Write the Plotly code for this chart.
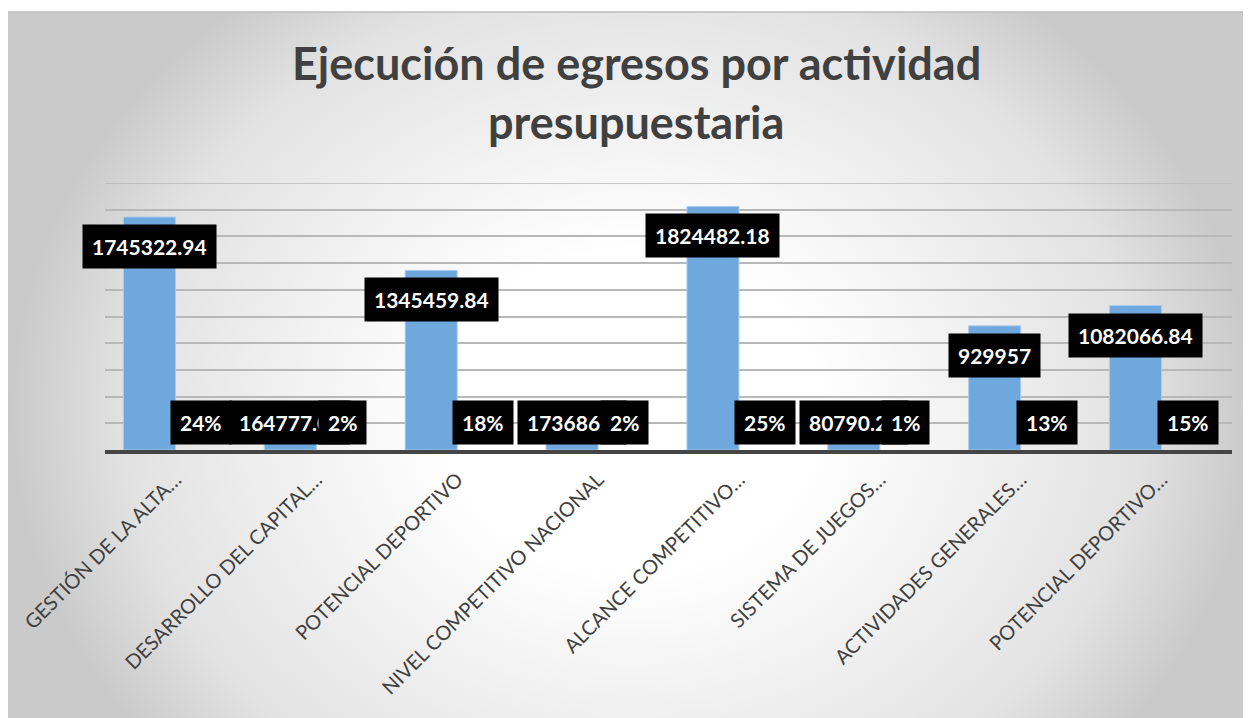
import base64
import plotly.graph_objects as go

# datos
categorias = [
    "GESTIÓN DE LA ALTA…",
    "DESARROLLO DEL CAPITAL…",
    "POTENCIAL DEPORTIVO",
    "NIVEL COMPETITIVO NACIONAL",
    "ALCANCE COMPETITIVO…",
    "SISTEMA DE JUEGOS…",
    "ACTIVIDADES GENERALES…",
    "POTENCIAL DEPORTIVO…",
]
egresos = [1745322.94, 164777.08, 1345459.84, 173686.5, 1824482.18, 80790.25, 929957, 1082066.84]
porcentajes = [0.24, 0.02, 0.18, 0.02, 0.25, 0.01, 0.13, 0.15]

TITULO_1 = "Ejecución de egresos por actividad"
TITULO_2 = "presupuestaria"
Y_MAX = 2_000_000
Y_PASO = 200_000

# ── geometría (la página ya deja 8 px de margen blanco arriba/izquierda) ──────
W, H = 1243, 710
ML, MR, MT, MB = 97, 19, 175, 268
BARGAP = 0.262
FRAME_Y0 = 4

AZUL = "#6fa8dc"
GRIS_TXT = "#404040"
GRIS_GRID = "#b8b8b8"
FUENTE = "Lato"

plot_w = W - ML - MR
plot_h = H - MT - MB
cat_w = plot_w / len(categorias)
bar_w = cat_w * (1 - BARGAP) / 2
px_por_unidad = plot_h / Y_MAX


def px_a_paper(x=None, y=None):
    """pixeles de la figura -> coordenadas 'paper'"""
    if x is not None:
        return (x - ML) / plot_w
    return (H - MB - y) / plot_h


def fmt_valor(v):
    s = f"{v:.2f}"
    return s.rstrip("0").rstrip(".")


# ── fondo degradado radial (como el gráfico de Excel) ─────────────────────────
fw, fh = W, H - FRAME_Y0
cx, cy = 624, 400
svg = f"""<svg xmlns="http://www.w3.org/2000/svg" width="{fw}" height="{fh}" viewBox="0 0 {fw} {fh}" preserveAspectRatio="none">
<defs><radialGradient id="g" gradientUnits="userSpaceOnUse" cx="{cx}" cy="{cy}" r="620"
 gradientTransform="translate({cx} {cy}) scale(1 0.85) translate(-{cx} -{cy})">
<stop offset="0" stop-color="#ffffff"/><stop offset="0.3" stop-color="#ffffff"/>
<stop offset="0.82" stop-color="#e2e2e2"/><stop offset="1" stop-color="#cacaca"/>
</radialGradient></defs>
<rect width="{fw}" height="{fh}" fill="url(#g)"/></svg>"""
fondo = "data:image/svg+xml;base64," + base64.b64encode(svg.encode()).decode()

fig = go.Figure()
fig.add_trace(go.Bar(
    x=categorias, y=egresos, name="Egresos",
    marker=dict(color=AZUL, line=dict(color="#a9cbeb", width=1)),
))
fig.add_trace(go.Bar(
    x=categorias, y=porcentajes, name="%",
    marker=dict(color=AZUL, line=dict(width=0)),
))

# etiquetas: caja negra, texto blanco
etiqueta = dict(
    showarrow=False, bgcolor="black", borderpad=9,
    font=dict(family=FUENTE, size=21, color="white", weight="bold"),
)
anot = []
for cat, v, p in zip(categorias, egresos, porcentajes):
    if v * px_por_unidad >= 52:
        pos = dict(y=v, yanchor="top", yshift=-7)
    else:
        pos = dict(y=0, yanchor="bottom", yshift=5)
    anot.append(dict(x=cat, xshift=-bar_w / 2, text=fmt_valor(v), **pos, **etiqueta))
    anot.append(dict(x=cat, xshift=bar_w / 2, y=0, yanchor="bottom", yshift=5,
                     text=f"{p:.0%}", **etiqueta))

# título en dos líneas
for txt, base in ((TITULO_1, 72), (TITULO_2, 131)):
    anot.append(dict(
        text=txt, showarrow=False, xref="paper", yref="paper",
        x=px_a_paper(x=628), y=px_a_paper(y=base - 17), xanchor="center", yanchor="middle",
        font=dict(family=FUENTE, size=45, color=GRIS_TXT, weight="bold"),
    ))

img_x = px_a_paper(x=0)
img_y = px_a_paper(y=FRAME_Y0)

fig.update_layout(
    width=W, height=H,
    margin=dict(l=ML, r=MR, t=MT, b=MB),
    paper_bgcolor="white", plot_bgcolor="rgba(0,0,0,0)",
    barmode="group", bargap=BARGAP, bargroupgap=0,
    showlegend=False,
    annotations=anot,
    images=[dict(
        source=fondo, xref="paper", yref="paper",
        x=img_x, y=img_y, sizex=fw / plot_w, sizey=fh / plot_h,
        xanchor="left", yanchor="top", sizing="stretch", layer="below",
    )],
    shapes=[
        # borde superior del marco
        dict(type="line", xref="paper", yref="paper",
             x0=img_x, x1=img_x + fw / plot_w, y0=img_y, y1=img_y,
             line=dict(color="#bdbdbd", width=1.5)),
        # línea de cuadrícula superior (plotly no la dibuja en el borde)
        dict(type="line", xref="paper", yref="y", x0=0, x1=1, y0=Y_MAX, y1=Y_MAX,
             line=dict(color=GRIS_GRID, width=1.5), layer="below"),
    ],
    xaxis=dict(
        range=[-0.5, len(categorias) - 0.5],
        showline=True, linecolor="#454545", linewidth=4, automargin=False,
        ticks="", tickangle=-45, ticklabelshift=0, ticklabelstandoff=6,
        tickfont=dict(family=FUENTE, size=20, color=GRIS_TXT),
        showgrid=False,
    ),
    yaxis=dict(
        range=[0, Y_MAX], dtick=Y_PASO, showticklabels=False, automargin=False,
        showgrid=True, gridcolor=GRIS_GRID, gridwidth=1.5, zeroline=False,
    ),
)

fig.write_html("out.html")
